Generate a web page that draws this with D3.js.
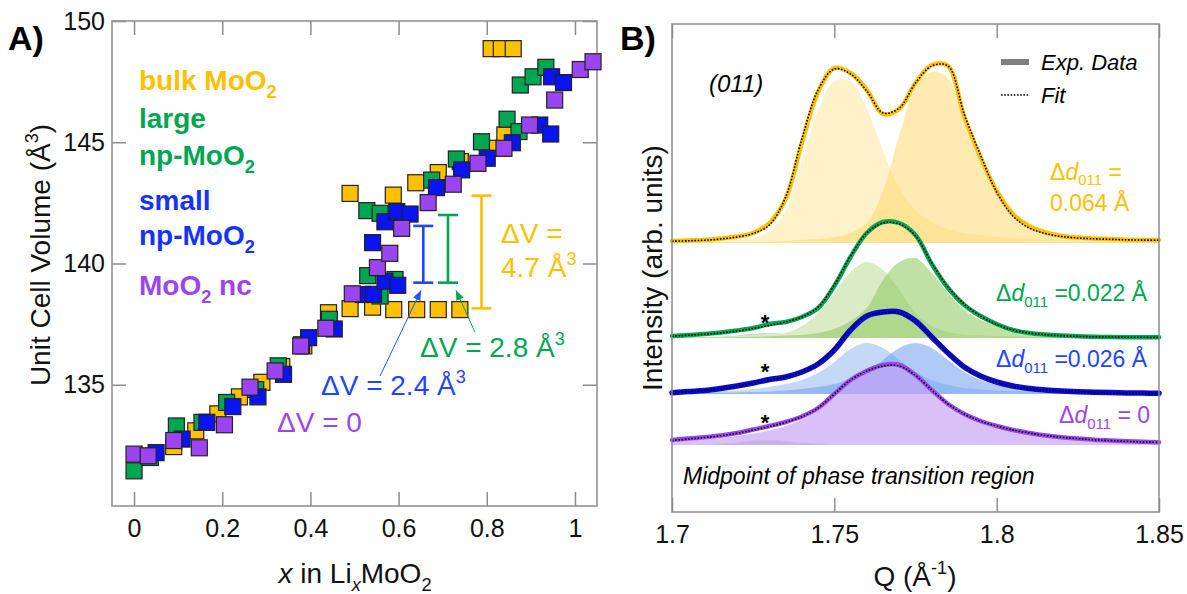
<!DOCTYPE html>
<html><head><meta charset="utf-8">
<script src="https://cdn.jsdelivr.net/npm/d3@7"></script>
<style>
body{margin:0;background:#fff}
text{font-family:"Liberation Sans",Arial,Helvetica,sans-serif}
</style></head>
<body><svg id="c" width="1187" height="594"></svg>
<script>
// ---------------- Panel A data ----------------
const bulkPts = [[0.09,132.45],[0.14,133.1],[0.19,133.8],[0.239,134.5],[0.29,135.1],[0.335,135.75],[0.385,136.6],[0.441,137.97],
 [0.49,138.14],[0.541,138.2],[0.589,138.1],[0.641,138.1],[0.69,138.1],[0.739,138.1],
 [0.49,142.89],[0.588,142.82],[0.639,143.33],[0.69,143.75],[0.74,144.2],[0.805,144.75],[0.841,145.3],
 [0.81,148.86],[0.833,148.86],[0.86,148.86]];
const largePts = [[0,131.45],[0.037,132.0],[0.096,133.3],[0.154,133.45],[0.21,134.27],[0.276,134.8],[0.327,135.78],[0.38,136.65],[0.443,137.7],
 [0.53,139.5],[0.558,138.66],[0.592,139.34],[0.528,142.18],[0.558,142.07],[0.675,143.44],[0.731,144.31],[0.788,145.02],
 [0.846,145.95],[0.873,145.44],[0.876,147.36],[0.905,147.7],[0.934,148.09]];
const smallPts = [[0.05,132.2],[0.109,132.76],[0.165,133.45],[0.224,134.1],[0.281,134.5],[0.339,135.43],[0.396,136.94],[0.454,137.3],
 [0.52,138.72],[0.543,138.73],[0.569,139.27],[0.598,139.1],[0.541,140.86],[0.569,141.72],[0.596,142.14],[0.626,142.04],
 [0.686,143.13],[0.743,143.86],[0.801,144.34],[0.858,144.98],[0.92,145.71],[0.945,145.34],[0.947,147.7],[0.974,147.46]];
const ncPts = [[0,132.14],[0.032,132.07],[0.09,132.7],[0.148,132.4],[0.205,133.35],[0.263,134.9],[0.32,135.57],[0.378,136.6],[0.435,137.33],
 [0.495,138.75],[0.552,139.83],[0.58,140.42],[0.607,141.45],[0.667,142.51],[0.724,143.27],[0.78,144.13],[0.839,144.75],
 [0.897,145.71],[0.954,146.74],[1.012,148.0],[1.041,148.32]];
// error bars: [x, low, high]
const gapBars = [[0.656,139.21,141.55],[0.712,139.21,142.0],[0.788,138.15,142.8]];
// arrows: [x0,y0,x1,y1]
const gapArrows = [[0.558,135.36,0.651,138.9],[0.773,137.18,0.730,138.9]];
const xTicksA = [0,0.2,0.4,0.6,0.8,1];
const xTickLabelsA = ["0","0.2","0.4","0.6","0.8","1"];
const yTicksA = [135,140,145,150];
const yTickLabelsA = ["135","140","145","150"];

// ---------------- Panel B data ----------------
const qGrid = [1.700,1.705,1.710,1.715,1.720,1.725,1.730,1.735,1.740,1.745,1.750,1.755,1.760,1.765,1.770,1.775,1.780,1.785,1.790,1.795,1.800,1.805,1.810,1.815,1.820,1.825,1.830,1.835,1.840,1.845,1.850];
const bulkExp  = [2,2.5,3,4.5,6.5,10,20,44,100,151,175,170,153,129,134,160,178,177,126,86,52,29,17,10.5,7,5.5,4.5,4,3.3,3,3];
const bulkFit  = [1.8,2.2,2.8,4,6,9.5,18,46,104,153,174,169,152,130,135,160,177,177,129,88,51,27,15,9.5,6.5,5,4.2,3.7,3.2,2.9,2.8];
const bulkPk1  = [1,1,1.5,2,3,5,12,32,82,133,162,162,134,92,55,33,21,14,10,8,6,5,4,3,2.5,2,1.5,1.2,1,1,1];
const bulkPk2  = [0.5,0.5,0.6,0.8,1,1.3,1.6,2,3,4,6,10,20,52,108,155,171,165,118,80,47,26,14,8,5,3.5,2.5,2,1.5,1,1];
const largeExp = [2,3,4,5.5,7.5,10,14,16,21,30,52,81,105,116,115,103,74,50,33,22,14,8,5,3.5,2.5,1.8,1.3,1,0.8,0.7,0.7];
const largeFit = [1.8,2.8,3.8,5,7,9.5,12.5,16,21,31,53,82,105,115,114,102,75,51,34,22,13.5,8,5,3.3,2.3,1.6,1.2,1,0.8,0.7,0.6];
const largePk1 = [0.5,0.7,1,1.5,2,3,4,5,12,25,45,66,76,68,48,25,12,6,3.5,2.5,2,1.5,1.2,1,0.8,0.7,0.6,0.5,0.5,0.5,0.5];
const largePk2 = [0.3,0.4,0.5,0.7,1,1.3,1.8,2.5,3,5,9,17,30,58,76,80,65,45,28,18,12,8,6,4,3,2.5,2,1.7,1.5,1.2,1];
const smallExp = [1.3,2.5,3.5,5.5,8,11,14.5,17,22,30,44,64,78,82,82,73,57,41,27,18,12,8,5.5,4,3,2.3,1.8,1.4,1.1,0.9,0.7];
const smallFit = [1.2,2.4,3.5,5.3,7.8,10.8,14,17,22,31,46,65,78,81,81,72,57,41,27,17.5,11.5,7.5,5.2,3.8,2.8,2.1,1.6,1.3,1,0.8,0.6];
const smallPk1 = [1,1.5,2,2.7,3.5,5,7,10,14,21,32,45,51,46,34,22,14,9,6,4.5,3.5,3,2.5,2.2,2,1.8,1.5,1.3,1.2,1.1,1];
const smallPk2 = [0.5,0.7,1,1.2,1.5,2,2.5,3.5,5,7,10,15,22,34,46,51,46,34,22,14,9,6,4.5,3.5,3,2.5,2,1.8,1.5,1.2,1];
const ncExp    = [5,6.5,7.8,9.5,12,15.5,19,23,28.5,37,51,65,74,80,80,70,55,41,31,24,19,15,12,9.5,7.8,6.5,5.3,4.5,3.8,3.2,2.7];
const ncFit    = [4.5,6,7.5,9.2,11.7,15,18.5,22.7,28.3,37,51,65,74,79,79,69.5,55,41,31,24,19,15,12,9.5,7.7,6.4,5.2,4.4,3.7,3.1,2.6];
const ncPk1    = [3.5,4.5,5.5,7,9,11.5,14.5,19,25.5,34.5,48,62,72,78,78,68,53,39.5,29.5,23,18,14,11,8.7,7,5.8,4.7,4,3.3,2.8,2.3];
const impurity = [0,0,0,1,2.5,4.2,4.8,3.8,2,1,0,0,0,0,0,0,0,0,0,0,0,0,0,0,0,0,0,0,0,0,0];
const offsets  = [269,174,118,67];
const xTicksB = [1.7,1.75,1.8,1.85];
const xTickLabelsB = ["1.7","1.75","1.8","1.85"];

// ---------------- helpers ----------------
const svg = d3.select("#c");
const FRAME = "#8c8c8c";
function rich(g, x, y, parts, o) {
  const size = o.size;
  const t = g.append("text").attr("x", x).attr("y", y)
    .attr("font-size", size).attr("fill", o.fill || "#000")
    .attr("font-weight", o.weight || "normal")
    .attr("font-style", o.italic ? "italic" : "normal")
    .attr("text-anchor", o.anchor || "start");
  if (o.transform) t.attr("transform", o.transform);
  let shift = 0;
  parts.forEach(p => {
    const ts = t.append("tspan").text(p.t);
    const target = p.sub ? size * (o.subShift || 0.3) : (p.sup ? -size * 0.42 : 0);
    ts.attr("dy", target - shift);
    shift = target;
    if (p.sub || p.sup) ts.attr("font-size", size * 0.65);
    if (p.i) ts.attr("font-style", "italic");
    if (p.n) ts.attr("font-style", "normal");
  });
  return t;
}

// ---------------- Panel A ----------------
const xA = d3.scaleLinear().domain([-0.05, 1.05]).range([112, 597]);
const yA = d3.scaleLinear().domain([130, 150]).range([506, 21]);
const gA = svg.append("g");

gA.append("rect").attr("x", 112).attr("y", 21).attr("width", 485).attr("height", 485)
  .attr("fill", "none").attr("stroke", FRAME).attr("stroke-width", 1.5);

function styleAxis(g) {
  g.select(".domain").remove();
  g.selectAll(".tick line").attr("stroke", FRAME).attr("stroke-width", 1.5);
  g.selectAll(".tick text").attr("font-size", 25).attr("fill", "#111")
    .attr("font-family", '"Liberation Sans",Arial,sans-serif');
}
gA.append("g").attr("transform", "translate(0,506)")
  .call(d3.axisBottom(xA).tickValues(xTicksA).tickFormat((d, i) => xTickLabelsA[i]).tickSize(-14).tickPadding(13)).call(styleAxis);
gA.append("g").attr("transform", "translate(0,21)")
  .call(d3.axisTop(xA).tickValues(xTicksA).tickFormat("").tickSize(-14)).call(styleAxis);
gA.append("g").attr("transform", "translate(112,0)")
  .call(d3.axisLeft(yA).tickValues(yTicksA).tickFormat((d, i) => yTickLabelsA[i]).tickSize(-14).tickPadding(7)).call(styleAxis);
gA.append("g").attr("transform", "translate(597,0)")
  .call(d3.axisRight(yA).tickValues(yTicksA).tickFormat("").tickSize(-14)).call(styleAxis);

const series = [
  {pts: bulkPts, c: "#FFC000"},
  {pts: largePts, c: "#00A651"},
  {pts: smallPts, c: "#0A14F2"},
  {pts: ncPts, c: "#9B45F2"}
];
const M = 16;
series.forEach(s => {
  gA.append("g").selectAll("rect").data(s.pts).join("rect")
    .attr("x", d => xA(d[0]) - M / 2).attr("y", d => yA(d[1]) - M / 2)
    .attr("width", M).attr("height", M)
    .attr("fill", s.c).attr("stroke", "#222").attr("stroke-width", 1.2);
});

// gap bars
const barCols = ["#1E46FF", "#00A651", "#FFC000"];
gapBars.forEach((b, i) => {
  const g = gA.append("g").attr("stroke", barCols[i]).attr("stroke-width", 2.6);
  g.append("line").attr("x1", xA(b[0])).attr("x2", xA(b[0])).attr("y1", yA(b[1])).attr("y2", yA(b[2]));
  g.append("line").attr("x1", xA(b[0]) - 10).attr("x2", xA(b[0]) + 10).attr("y1", yA(b[1])).attr("y2", yA(b[1]));
  g.append("line").attr("x1", xA(b[0]) - 10).attr("x2", xA(b[0]) + 10).attr("y1", yA(b[2])).attr("y2", yA(b[2]));
});
// arrows
const defs = svg.append("defs");
const arrCols = ["#2255FF", "#00A651"];
arrCols.forEach((c, i) => {
  defs.append("marker").attr("id", "ar" + i).attr("viewBox", "0 0 10 8").attr("refX", 10).attr("refY", 4)
    .attr("markerWidth", 10).attr("markerHeight", 8).attr("markerUnits", "userSpaceOnUse").attr("orient", "auto")
    .append("path").attr("d", "M0,0L10,4L0,8z").attr("fill", c);
});
gapArrows.forEach((a, i) => {
  gA.append("line").attr("x1", xA(a[0])).attr("y1", yA(a[1])).attr("x2", xA(a[2])).attr("y2", yA(a[3]))
    .attr("stroke", arrCols[i]).attr("stroke-width", 1).attr("marker-end", `url(#ar${i})`);
});

// legend-like labels
rich(gA, 139, 90, [{t: "bulk MoO"}, {t: "2", sub: true}], {size: 28, weight: "bold", fill: "#FFC000"});
rich(gA, 139, 128, [{t: "large"}], {size: 28, weight: "bold", fill: "#00A651"});
rich(gA, 139, 165, [{t: "np-MoO"}, {t: "2", sub: true}], {size: 28, weight: "bold", fill: "#00A651"});
rich(gA, 139, 210, [{t: "small"}], {size: 28, weight: "bold", fill: "#1632FF"});
rich(gA, 139, 245, [{t: "np-MoO"}, {t: "2", sub: true}], {size: 28, weight: "bold", fill: "#1632FF"});
rich(gA, 139, 295, [{t: "MoO"}, {t: "2", sub: true}, {t: " nc"}], {size: 28, weight: "bold", fill: "#9B45F2"});

rich(gA, 277, 432, [{t: "ΔV = 0"}], {size: 28, fill: "#9B45F2"});
rich(gA, 321, 395, [{t: "ΔV = 2.4 Å"}, {t: "3", sup: true}], {size: 28, fill: "#1E46FF"});
rich(gA, 420, 357, [{t: "ΔV = 2.8 Å"}, {t: "3", sup: true}], {size: 28, fill: "#00A651"});
rich(gA, 501, 243, [{t: "ΔV ="}], {size: 28, fill: "#FFC000"});
rich(gA, 501, 277, [{t: "4.7 Å"}, {t: "3", sup: true}], {size: 28, fill: "#FFC000"});

// axis titles
rich(gA, 355, 583, [{t: "x", i: true}, {t: " in Li"}, {t: "x", sub: true, i: true}, {t: "MoO"}, {t: "2", sub: true}], {size: 28, anchor: "middle", fill: "#111"});
rich(gA, 0, 0, [{t: "Unit Cell Volume (Å"}, {t: "3", sup: true}, {t: ")"}], {size: 28, anchor: "middle", fill: "#111", transform: "translate(50,255) rotate(-90)"});
gA.append("text").attr("x", 8).attr("y", 50).attr("font-size", 34).attr("font-weight", "bold").text("A)");

// ---------------- Panel B ----------------
const xB = d3.scaleLinear().domain([1.7, 1.85]).range([672, 1159]);
const yB = d3.scaleLinear().domain([0, 488]).range([512, 24]);
const gB = svg.append("g");
const crv = d3.curveCatmullRom.alpha(0.5);

const panels = [
  {exp: bulkExp, fit: bulkFit, comps: [[bulkPk1, "#FFF1C9", 1], [bulkPk2, "#FFD865", 0.5]], line: "#FFC000", w: 4.5, imp: null},
  {exp: largeExp, fit: largeFit, comps: [[largePk1, "#D9ECC6", 1], [largePk2, "#8CC85A", 0.55]], line: "#00A651", w: 4.5, imp: impurity},
  {exp: smallExp, fit: smallFit, comps: [[smallPk1, "#C4D8F8", 1], [smallPk2, "#6E9EF0", 0.55]], line: "#0808D8", w: 5.5, imp: impurity},
  {exp: ncExp, fit: ncFit, comps: [[ncPk1, "#C7A2F5", 0.68]], line: "#9B45F2", w: 4.5, imp: impurity}
];
panels.forEach((p, k) => {
  const off = offsets[k];
  const area = d3.area().x((d, i) => xB(qGrid[i])).y0(yB(off)).y1(d => yB(off + Math.max(0, d))).curve(d3.curveMonotoneX);
  const area2 = d3.area().x((d, i) => xB(qGrid[i])).y0(yB(off)).y1(d => yB(off + d)).curve(crv);
  const line = d3.line().x((d, i) => xB(qGrid[i])).y(d => yB(off + d)).curve(crv);
  if (p.imp) gB.append("path").datum(p.imp).attr("d", area).attr("fill", "#CFCFCF");
  p.comps.forEach(c => {
    gB.append("path").datum(c[0]).attr("d", area2).attr("fill", c[1]).attr("fill-opacity", c[2]);
  });
  gB.append("path").datum(p.exp).attr("d", line).attr("fill", "none").attr("stroke", p.line)
    .attr("stroke-width", p.w).attr("stroke-linejoin", "round").attr("stroke-linecap", "round");
  gB.append("path").datum(p.fit).attr("d", line).attr("fill", "none").attr("stroke", "#000")
    .attr("stroke-width", 1.6).attr("stroke-dasharray", "1.6,1.6");
});

gB.append("rect").attr("x", 672).attr("y", 24).attr("width", 487).attr("height", 488)
  .attr("fill", "none").attr("stroke", FRAME).attr("stroke-width", 1.5);
gB.append("g").attr("transform", "translate(0,512)")
  .call(d3.axisBottom(xB).tickValues(xTicksB).tickFormat((d, i) => xTickLabelsB[i]).tickSize(-14).tickPadding(13)).call(styleAxis);
gB.append("g").attr("transform", "translate(0,24)")
  .call(d3.axisTop(xB).tickValues(xTicksB).tickFormat("").tickSize(-14)).call(styleAxis);

// texts B
rich(gB, 709, 92, [{t: "(011)"}], {size: 24, italic: true});
gB.append("line").attr("x1", 1001).attr("x2", 1029).attr("y1", 62).attr("y2", 62).attr("stroke", "#808080").attr("stroke-width", 6);
gB.append("line").attr("x1", 1001).attr("x2", 1029).attr("y1", 95).attr("y2", 95).attr("stroke", "#000").attr("stroke-width", 1.6).attr("stroke-dasharray", "1.6,1.6");
rich(gB, 1041, 70, [{t: "Exp. Data"}], {size: 22, italic: true});
rich(gB, 1041, 103, [{t: "Fit"}], {size: 22, italic: true});
rich(gB, 1050, 180, [{t: "Δ"}, {t: "d", i: true}, {t: "011", sub: true, n: true}, {t: " ="}], {size: 23, fill: "#FFC000", subShift: 0.22});
rich(gB, 1050, 211, [{t: "0.064 Å"}], {size: 23, fill: "#FFC000"});
rich(gB, 996, 301, [{t: "Δ"}, {t: "d", i: true}, {t: "011", sub: true, n: true}, {t: " =0.022 Å"}], {size: 23, fill: "#00A651", subShift: 0.25});
rich(gB, 996, 367, [{t: "Δ"}, {t: "d", i: true}, {t: "011", sub: true, n: true}, {t: " =0.026 Å"}], {size: 23, fill: "#1E46FF", subShift: 0.25});
rich(gB, 1059, 423, [{t: "Δ"}, {t: "d", i: true}, {t: "011", sub: true, n: true}, {t: " = 0"}], {size: 23, fill: "#9B45F2", subShift: 0.25});
rich(gB, 683, 484, [{t: "Midpoint of phase transition region"}], {size: 23, italic: true});
[330, 379, 430].forEach(y => {
  gB.append("text").attr("x", 765).attr("y", y).attr("text-anchor", "middle").attr("font-size", 22).attr("font-weight", "bold").text("*");
});
rich(gB, 915, 586, [{t: "Q (Å"}, {t: "-1", sup: true}, {t: ")"}], {size: 28, anchor: "middle", fill: "#111"});
rich(gB, 0, 0, [{t: "Intensity (arb. units)"}], {size: 28, anchor: "middle", fill: "#111", transform: "translate(662,268) rotate(-90)"});
gB.append("text").attr("x", 620).attr("y", 50).attr("font-size", 34).attr("font-weight", "bold").text("B)");
</script>
</body></html>
